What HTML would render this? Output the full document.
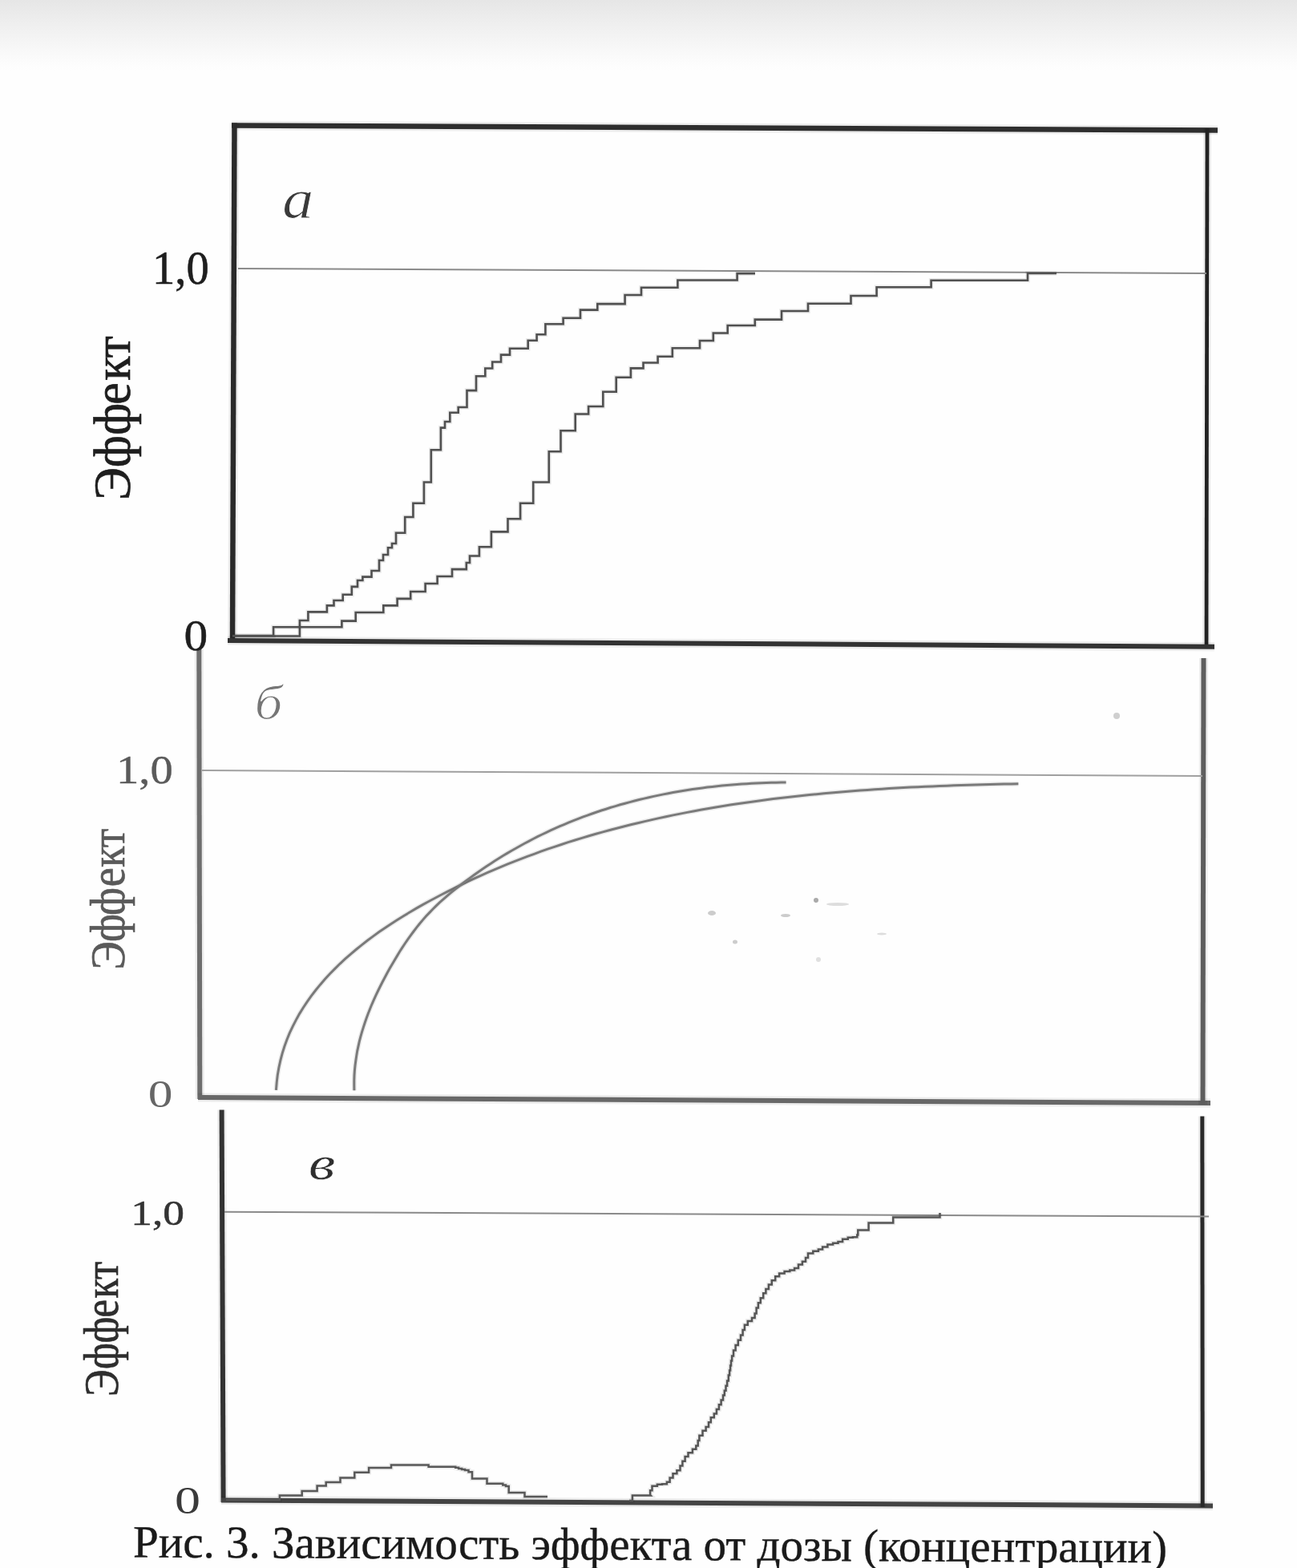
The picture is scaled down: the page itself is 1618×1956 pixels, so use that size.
<!DOCTYPE html>
<html><head><meta charset="utf-8"><title>Рис. 3</title>
<style>html,body{margin:0;padding:0;background:#fefefe;}svg{display:block;}</style>
</head><body>
<svg width="1618" height="1956" viewBox="0 0 1618 1956">
<defs>
<linearGradient id="bg" x1="0" y1="0" x2="0" y2="1">
<stop offset="0" stop-color="#e6e6e6"/><stop offset="0.34" stop-color="#efefef"/><stop offset="0.69" stop-color="#f8f8f8"/><stop offset="0.91" stop-color="#fdfdfd"/><stop offset="1" stop-color="#fefefe"/>
</linearGradient>
</defs>
<rect width="1618" height="1956" fill="#fefefe"/>
<rect width="1618" height="90" fill="url(#bg)"/>
<g fill="none" stroke-linecap="butt" stroke-linejoin="miter">
<path d="M289,156.5 L1519,162.5" stroke="#000" stroke-opacity="0.07" stroke-width="11.5"/><path d="M289,156.5 L1519,162.5" stroke="#2e2e2e" stroke-width="6.5"/>
<path d="M292.5,153.5 L290,801" stroke="#000" stroke-opacity="0.07" stroke-width="11.5"/><path d="M292.5,153.5 L290,801" stroke="#2a2a2a" stroke-width="6.5"/>
<path d="M1506,160 L1505,808" stroke="#000" stroke-opacity="0.07" stroke-width="9.8"/><path d="M1506,160 L1505,808" stroke="#222" stroke-width="4.8"/>
<path d="M284,799 L1515,806.7" stroke="#000" stroke-opacity="0.07" stroke-width="11"/><path d="M284,799 L1515,806.7" stroke="#333" stroke-width="6"/>
<path d="M248.3,810 L249.3,1371" stroke="#000" stroke-opacity="0.07" stroke-width="11"/><path d="M248.3,810 L249.3,1371" stroke="#6e6e6e" stroke-width="6"/>
<path d="M247,1369 L1510,1376" stroke="#000" stroke-opacity="0.07" stroke-width="11"/><path d="M247,1369 L1510,1376" stroke="#686868" stroke-width="6"/>
<path d="M1501.5,821 L1500.5,1378" stroke="#000" stroke-opacity="0.07" stroke-width="11"/><path d="M1501.5,821 L1500.5,1378" stroke="#5e5e5e" stroke-width="6"/>
<path d="M276.6,1384.5 L278.6,1874" stroke="#000" stroke-opacity="0.07" stroke-width="11"/><path d="M276.6,1384.5 L278.6,1874" stroke="#333" stroke-width="6"/>
<path d="M276,1871.5 L1513,1878.4" stroke="#000" stroke-opacity="0.07" stroke-width="11"/><path d="M276,1871.5 L1513,1878.4" stroke="#444" stroke-width="6"/>
<path d="M1499.8,1392.5 L1500.2,1880" stroke="#000" stroke-opacity="0.07" stroke-width="10"/><path d="M1499.8,1392.5 L1500.2,1880" stroke="#2a2a2a" stroke-width="5"/>
<path d="M297,335 L1505,341" stroke="#8a8a8a" stroke-width="2"/>
<path d="M252,961 L1500,968" stroke="#a0a0a0" stroke-width="2"/>
<path d="M280,1511.7 L1508,1517.6" stroke="#8a8a8a" stroke-width="2"/>
<path d="M290,793.5 H373.9 V774 H384.4 V763.4 H407.9 V755.4 H416.5 V749 H427.7 V741.8 H438.8 V731.9 H446 V724 H452.4 V719.6 H463.5 V712 H473 V699 H478 V692 H484 V683.3 H489 V678 H494 V664.8 H505.2 V645 H515.4 V627.7 H528.9 V601.5 H537.8 V561.3 H549.9 V533.6 H555 V526 H561.3 V514.8 H571.7 V508 H582.5 V487.1 H594 V469.3 H605.3 V459.5 H614.2 V451.5 H625 V442.6 H636 V434.7 H658.7 V424.8 H669.6 V417.2 H680.4 V404.2 H702.6 V396.8 H724 V386.6 H745.3 V379.1 H779.6 V368 H800 V358.7 H845.4 V349.5 H919.6 V341.1 H942" stroke="#000" stroke-opacity="0.08" stroke-width="5.6"/><path d="M290,793.5 H373.9 V774 H384.4 V763.4 H407.9 V755.4 H416.5 V749 H427.7 V741.8 H438.8 V731.9 H446 V724 H452.4 V719.6 H463.5 V712 H473 V699 H478 V692 H484 V683.3 H489 V678 H494 V664.8 H505.2 V645 H515.4 V627.7 H528.9 V601.5 H537.8 V561.3 H549.9 V533.6 H555 V526 H561.3 V514.8 H571.7 V508 H582.5 V487.1 H594 V469.3 H605.3 V459.5 H614.2 V451.5 H625 V442.6 H636 V434.7 H658.7 V424.8 H669.6 V417.2 H680.4 V404.2 H702.6 V396.8 H724 V386.6 H745.3 V379.1 H779.6 V368 H800 V358.7 H845.4 V349.5 H919.6 V341.1 H942" stroke="#505050" stroke-width="2.6"/>
<path d="M290,793 H341.1 V782.3 H426.4 V774.6 H443.7 V764 H478.3 V755.4 H495.6 V746.9 H512.2 V738 H530.6 V728 H545.6 V719 H564 V710.1 H581.8 V702 H586 V693.5 H597.9 V682.3 H612.9 V663.4 H633.5 V647.3 H649.1 V627.8 H665.2 V601.5 H684.8 V563.2 H699.5 V537.3 H717.7 V516.5 H734.1 V507 H752.3 V488.8 H768.7 V470.7 H786.9 V459.4 H802.5 V452.5 H820.6 V444.7 H838.8 V434.3 H873 V425 H889.8 V415.5 H907.7 V406 H941.8 V398.6 H975 V388 H1008 V378.8 H1061.5 V369 H1093.6 V358.3 H1161.6 V349.7 H1282 V341 H1318" stroke="#000" stroke-opacity="0.08" stroke-width="5.6"/><path d="M290,793 H341.1 V782.3 H426.4 V774.6 H443.7 V764 H478.3 V755.4 H495.6 V746.9 H512.2 V738 H530.6 V728 H545.6 V719 H564 V710.1 H581.8 V702 H586 V693.5 H597.9 V682.3 H612.9 V663.4 H633.5 V647.3 H649.1 V627.8 H665.2 V601.5 H684.8 V563.2 H699.5 V537.3 H717.7 V516.5 H734.1 V507 H752.3 V488.8 H768.7 V470.7 H786.9 V459.4 H802.5 V452.5 H820.6 V444.7 H838.8 V434.3 H873 V425 H889.8 V415.5 H907.7 V406 H941.8 V398.6 H975 V388 H1008 V378.8 H1061.5 V369 H1093.6 V358.3 H1161.6 V349.7 H1282 V341 H1318" stroke="#505050" stroke-width="2.6"/>
<path d="M344.4,1359.9 L345.2,1350.3 L346.3,1340.9 L347.9,1331.7 L349.9,1322.7 L352.2,1313.8 L354.9,1305.2 L358.0,1296.7 L361.4,1288.4 L365.2,1280.3 L369.3,1272.4 L373.6,1264.6 L378.3,1257.0 L383.2,1249.6 L388.3,1242.4 L393.8,1235.3 L399.4,1228.4 L405.3,1221.6 L411.3,1215.0 L417.6,1208.6 L424.0,1202.3 L430.6,1196.2 L437.3,1190.3 L444.2,1184.5 L451.2,1178.8 L458.3,1173.3 L465.6,1167.9 L472.9,1162.6 L480.4,1157.5 L487.9,1152.4 L495.6,1147.5 L503.3,1142.7 L511.1,1138.0 L518.9,1133.4 L526.8,1128.9 L534.8,1124.5 L542.8,1120.2 L550.8,1116.0 L558.8,1111.8 L566.9,1107.8 L575.0,1103.8 L583.2,1099.9 L591.3,1096.1 L599.6,1092.3 L607.8,1088.7 L616.1,1085.1 L624.4,1081.6 L632.7,1078.2 L641.0,1074.9 L649.4,1071.6 L657.8,1068.4 L666.3,1065.3 L674.7,1062.2 L683.2,1059.2 L691.7,1056.3 L700.3,1053.5 L708.8,1050.7 L717.4,1048.0 L726.0,1045.4 L734.7,1042.8 L743.3,1040.3 L752.0,1037.9 L760.7,1035.5 L769.4,1033.2 L778.1,1031.0 L786.8,1028.8 L795.6,1026.7 L804.4,1024.6 L813.2,1022.6 L822.0,1020.6 L830.8,1018.7 L839.7,1016.9 L848.5,1015.1 L857.4,1013.4 L866.3,1011.7 L875.2,1010.1 L884.1,1008.5 L893.0,1007.0 L902.0,1005.6 L910.9,1004.1 L919.8,1002.8 L928.8,1001.5 L937.8,1000.2 L946.8,999.0 L955.7,997.8 L964.7,996.6 L973.7,995.5 L982.7,994.5 L991.7,993.5 L1000.8,992.5 L1009.8,991.6 L1018.8,990.7 L1027.8,989.8 L1036.8,989.0 L1045.9,988.2 L1054.9,987.4 L1063.9,986.7 L1073.0,986.0 L1082.0,985.4 L1091.0,984.8 L1100.0,984.2 L1109.1,983.6 L1118.1,983.1 L1127.1,982.6 L1136.1,982.1 L1145.1,981.7 L1154.1,981.3 L1163.1,980.9 L1172.1,980.5 L1181.1,980.2 L1190.1,979.8 L1199.0,979.5 L1208.0,979.2 L1216.9,979.0 L1225.9,978.7 L1234.8,978.5 L1243.7,978.3 L1252.6,978.1 L1261.5,977.9 L1270.4,977.8" stroke="#000" stroke-opacity="0.08" stroke-width="6"/><path d="M344.4,1359.9 L345.2,1350.3 L346.3,1340.9 L347.9,1331.7 L349.9,1322.7 L352.2,1313.8 L354.9,1305.2 L358.0,1296.7 L361.4,1288.4 L365.2,1280.3 L369.3,1272.4 L373.6,1264.6 L378.3,1257.0 L383.2,1249.6 L388.3,1242.4 L393.8,1235.3 L399.4,1228.4 L405.3,1221.6 L411.3,1215.0 L417.6,1208.6 L424.0,1202.3 L430.6,1196.2 L437.3,1190.3 L444.2,1184.5 L451.2,1178.8 L458.3,1173.3 L465.6,1167.9 L472.9,1162.6 L480.4,1157.5 L487.9,1152.4 L495.6,1147.5 L503.3,1142.7 L511.1,1138.0 L518.9,1133.4 L526.8,1128.9 L534.8,1124.5 L542.8,1120.2 L550.8,1116.0 L558.8,1111.8 L566.9,1107.8 L575.0,1103.8 L583.2,1099.9 L591.3,1096.1 L599.6,1092.3 L607.8,1088.7 L616.1,1085.1 L624.4,1081.6 L632.7,1078.2 L641.0,1074.9 L649.4,1071.6 L657.8,1068.4 L666.3,1065.3 L674.7,1062.2 L683.2,1059.2 L691.7,1056.3 L700.3,1053.5 L708.8,1050.7 L717.4,1048.0 L726.0,1045.4 L734.7,1042.8 L743.3,1040.3 L752.0,1037.9 L760.7,1035.5 L769.4,1033.2 L778.1,1031.0 L786.8,1028.8 L795.6,1026.7 L804.4,1024.6 L813.2,1022.6 L822.0,1020.6 L830.8,1018.7 L839.7,1016.9 L848.5,1015.1 L857.4,1013.4 L866.3,1011.7 L875.2,1010.1 L884.1,1008.5 L893.0,1007.0 L902.0,1005.6 L910.9,1004.1 L919.8,1002.8 L928.8,1001.5 L937.8,1000.2 L946.8,999.0 L955.7,997.8 L964.7,996.6 L973.7,995.5 L982.7,994.5 L991.7,993.5 L1000.8,992.5 L1009.8,991.6 L1018.8,990.7 L1027.8,989.8 L1036.8,989.0 L1045.9,988.2 L1054.9,987.4 L1063.9,986.7 L1073.0,986.0 L1082.0,985.4 L1091.0,984.8 L1100.0,984.2 L1109.1,983.6 L1118.1,983.1 L1127.1,982.6 L1136.1,982.1 L1145.1,981.7 L1154.1,981.3 L1163.1,980.9 L1172.1,980.5 L1181.1,980.2 L1190.1,979.8 L1199.0,979.5 L1208.0,979.2 L1216.9,979.0 L1225.9,978.7 L1234.8,978.5 L1243.7,978.3 L1252.6,978.1 L1261.5,977.9 L1270.4,977.8" stroke="#7a7a7a" stroke-width="3"/>
<path d="M441.9,1360.3 L441.8,1354.0 L441.8,1347.8 L442.0,1341.6 L442.4,1335.4 L443.0,1329.3 L443.8,1323.2 L444.7,1317.1 L445.7,1311.1 L447.0,1305.1 L448.3,1299.2 L449.8,1293.3 L451.5,1287.4 L453.3,1281.6 L455.2,1275.7 L457.2,1270.0 L459.3,1264.2 L461.6,1258.5 L463.9,1252.8 L466.4,1247.2 L468.9,1241.6 L471.6,1236.0 L474.3,1230.5 L477.1,1225.0 L480.0,1219.5 L482.9,1214.0 L485.9,1208.6 L489.0,1203.2 L492.1,1197.9 L495.3,1192.6 L498.5,1187.3 L501.8,1182.1 L505.2,1177.0 L508.7,1171.9 L512.3,1166.9 L515.9,1162.0 L519.6,1157.1 L523.5,1152.3 L527.4,1147.6 L531.4,1143.0 L535.6,1138.6 L539.8,1134.2 L544.2,1129.9 L548.6,1125.7 L553.2,1121.6 L557.8,1117.6 L562.5,1113.7 L567.2,1109.8 L572.0,1106.0 L576.9,1102.2 L581.8,1098.5 L586.7,1094.9 L591.7,1091.3 L596.7,1087.7 L601.7,1084.2 L606.8,1080.8 L611.9,1077.4 L617.1,1074.0 L622.3,1070.8 L627.5,1067.5 L632.8,1064.4 L638.1,1061.2 L643.5,1058.2 L648.8,1055.2 L654.2,1052.2 L659.7,1049.3 L665.1,1046.5 L670.6,1043.7 L676.1,1041.0 L681.7,1038.3 L687.3,1035.7 L692.9,1033.2 L698.5,1030.7 L704.2,1028.3 L709.8,1025.9 L715.5,1023.6 L721.3,1021.4 L727.0,1019.2 L732.8,1017.1 L738.6,1015.0 L744.4,1013.0 L750.2,1011.0 L756.1,1009.2 L761.9,1007.3 L767.8,1005.6 L773.7,1003.8 L779.7,1002.2 L785.6,1000.6 L791.6,999.0 L797.5,997.5 L803.5,996.1 L809.5,994.7 L815.5,993.4 L821.6,992.1 L827.6,990.9 L833.6,989.7 L839.7,988.6 L845.8,987.5 L851.9,986.5 L857.9,985.5 L864.0,984.6 L870.1,983.7 L876.2,982.9 L882.4,982.1 L888.5,981.4 L894.6,980.7 L900.7,980.1 L906.9,979.5 L913.0,979.0 L919.2,978.5 L925.3,978.1 L931.4,977.7 L937.6,977.3 L943.7,977.0 L949.9,976.7 L956.0,976.5 L962.2,976.3 L968.3,976.2 L974.4,976.1 L980.6,976.1" stroke="#000" stroke-opacity="0.08" stroke-width="6"/><path d="M441.9,1360.3 L441.8,1354.0 L441.8,1347.8 L442.0,1341.6 L442.4,1335.4 L443.0,1329.3 L443.8,1323.2 L444.7,1317.1 L445.7,1311.1 L447.0,1305.1 L448.3,1299.2 L449.8,1293.3 L451.5,1287.4 L453.3,1281.6 L455.2,1275.7 L457.2,1270.0 L459.3,1264.2 L461.6,1258.5 L463.9,1252.8 L466.4,1247.2 L468.9,1241.6 L471.6,1236.0 L474.3,1230.5 L477.1,1225.0 L480.0,1219.5 L482.9,1214.0 L485.9,1208.6 L489.0,1203.2 L492.1,1197.9 L495.3,1192.6 L498.5,1187.3 L501.8,1182.1 L505.2,1177.0 L508.7,1171.9 L512.3,1166.9 L515.9,1162.0 L519.6,1157.1 L523.5,1152.3 L527.4,1147.6 L531.4,1143.0 L535.6,1138.6 L539.8,1134.2 L544.2,1129.9 L548.6,1125.7 L553.2,1121.6 L557.8,1117.6 L562.5,1113.7 L567.2,1109.8 L572.0,1106.0 L576.9,1102.2 L581.8,1098.5 L586.7,1094.9 L591.7,1091.3 L596.7,1087.7 L601.7,1084.2 L606.8,1080.8 L611.9,1077.4 L617.1,1074.0 L622.3,1070.8 L627.5,1067.5 L632.8,1064.4 L638.1,1061.2 L643.5,1058.2 L648.8,1055.2 L654.2,1052.2 L659.7,1049.3 L665.1,1046.5 L670.6,1043.7 L676.1,1041.0 L681.7,1038.3 L687.3,1035.7 L692.9,1033.2 L698.5,1030.7 L704.2,1028.3 L709.8,1025.9 L715.5,1023.6 L721.3,1021.4 L727.0,1019.2 L732.8,1017.1 L738.6,1015.0 L744.4,1013.0 L750.2,1011.0 L756.1,1009.2 L761.9,1007.3 L767.8,1005.6 L773.7,1003.8 L779.7,1002.2 L785.6,1000.6 L791.6,999.0 L797.5,997.5 L803.5,996.1 L809.5,994.7 L815.5,993.4 L821.6,992.1 L827.6,990.9 L833.6,989.7 L839.7,988.6 L845.8,987.5 L851.9,986.5 L857.9,985.5 L864.0,984.6 L870.1,983.7 L876.2,982.9 L882.4,982.1 L888.5,981.4 L894.6,980.7 L900.7,980.1 L906.9,979.5 L913.0,979.0 L919.2,978.5 L925.3,978.1 L931.4,977.7 L937.6,977.3 L943.7,977.0 L949.9,976.7 L956.0,976.5 L962.2,976.3 L968.3,976.2 L974.4,976.1 L980.6,976.1" stroke="#7a7a7a" stroke-width="3"/>
<path d="M282.0,1871.0 L348.9,1871.0 L348.9,1865.6 L376.7,1865.6 L376.7,1860.0 L395.6,1860.0 L395.6,1853.4 L406.7,1853.4 L406.7,1849.0 L424.5,1849.0 L424.5,1843.4 L442.3,1843.4 L442.3,1836.7 L460.1,1836.7 L460.1,1831.1 L488.0,1831.1 L488.0,1827.5 L534.6,1827.5 L534.6,1829.8 L564.3,1829.8 L568.2,1829.8 L568.2,1830.8 L572.1,1830.8 L572.1,1831.9 L576.1,1831.9 L576.1,1833.0 L580.0,1833.0 L580.0,1834.0 L584.5,1834.0 L584.5,1836.2 L589.0,1836.2 L589.0,1838.4 L589.0,1844.6 L607.5,1844.6 L607.5,1850.8 L623.6,1850.8 L627.3,1850.8 L627.3,1852.4 L631.0,1852.4 L631.0,1854.1 L634.7,1854.1 L634.7,1855.7 L634.7,1861.9 L654.5,1861.9 L654.5,1866.9 L683.0,1866.9" stroke="#000" stroke-opacity="0.08" stroke-width="5.5"/><path d="M282.0,1871.0 L348.9,1871.0 L348.9,1865.6 L376.7,1865.6 L376.7,1860.0 L395.6,1860.0 L395.6,1853.4 L406.7,1853.4 L406.7,1849.0 L424.5,1849.0 L424.5,1843.4 L442.3,1843.4 L442.3,1836.7 L460.1,1836.7 L460.1,1831.1 L488.0,1831.1 L488.0,1827.5 L534.6,1827.5 L534.6,1829.8 L564.3,1829.8 L568.2,1829.8 L568.2,1830.8 L572.1,1830.8 L572.1,1831.9 L576.1,1831.9 L576.1,1833.0 L580.0,1833.0 L580.0,1834.0 L584.5,1834.0 L584.5,1836.2 L589.0,1836.2 L589.0,1838.4 L589.0,1844.6 L607.5,1844.6 L607.5,1850.8 L623.6,1850.8 L627.3,1850.8 L627.3,1852.4 L631.0,1852.4 L631.0,1854.1 L634.7,1854.1 L634.7,1855.7 L634.7,1861.9 L654.5,1861.9 L654.5,1866.9 L683.0,1866.9" stroke="#585858" stroke-width="2.5"/>
<path d="M785,1872 H788.9 V1865.4 H811.6 L811.5,1865.3 L811.1,1865.3 L811.1,1859.2 L813.5,1859.2 L813.5,1853.7 L819.9,1853.7 L819.9,1851.7 L826.0,1851.7 L826.0,1851.3 L831.9,1851.3 L831.9,1848.8 L835.6,1848.8 L835.6,1843.4 L839.5,1843.4 L839.5,1838.2 L844.4,1838.2 L844.4,1834.3 L848.5,1834.3 L848.5,1828.5 L851.4,1828.5 L851.4,1822.7 L854.6,1822.7 L854.6,1817.0 L858.5,1817.0 L858.5,1812.2 L863.9,1812.2 L863.9,1807.8 L868.3,1807.8 L868.3,1803.5 L870.7,1803.5 L870.7,1797.0 L872.4,1797.0 L872.4,1790.7 L876.5,1790.7 L876.5,1784.8 L880.6,1784.8 L880.6,1780.0 L884.0,1780.0 L884.0,1774.2 L886.8,1774.2 L886.8,1768.3 L890.8,1768.3 L890.8,1763.4 L893.9,1763.4 L893.9,1758.1 L896.9,1758.1 L896.9,1752.3 L899.6,1752.3 L899.6,1746.4 L902.0,1746.4 L902.0,1740.5 L903.8,1740.5 L903.8,1734.7 L905.5,1734.7 L905.5,1728.7 L907.1,1728.7 L907.1,1722.4 L908.8,1722.4 L908.8,1715.6 L910.1,1715.6 L910.1,1709.6 L911.1,1709.6 L911.1,1703.5 L912.0,1703.5 L912.0,1697.5 L913.1,1697.5 L913.1,1691.5 L915.0,1691.5 L915.0,1684.6 L917.6,1684.6 L917.6,1678.0 L920.8,1678.0 L920.8,1671.7 L924.0,1671.7 L924.0,1665.5 L926.6,1665.5 L926.6,1659.1 L928.9,1659.1 L928.9,1652.8 L932.8,1652.8 L932.8,1647.9 L938.0,1647.9 L938.0,1644.0 L941.6,1644.0 L941.6,1638.4 L943.6,1638.4 L943.6,1631.6 L945.9,1631.6 L945.9,1625.2 L948.8,1625.2 L948.8,1619.2 L952.2,1619.2 L952.2,1613.2 L955.4,1613.2 L955.4,1608.0 L958.9,1608.0 L958.9,1602.6 L962.8,1602.6 L962.8,1597.2 L967.2,1597.2 L967.2,1592.3 L972.1,1592.3 L972.1,1588.5 L978.6,1588.5 L978.6,1585.9 L985.3,1585.9 L985.3,1584.6 L991.1,1584.6 L991.1,1581.9 L996.0,1581.9 L996.0,1577.6 L1000.9,1577.6 L1000.9,1573.8 L1005.0,1573.8 L1005.0,1568.9 L1008.0,1568.9 L1008.0,1563.5 L1014.3,1563.5 L1014.3,1560.8 L1020.9,1560.8 L1020.9,1558.6 L1026.1,1558.6 L1026.1,1555.6 L1032.4,1555.6 L1032.4,1552.4 L1039.1,1552.4 L1039.1,1550.8 L1045.5,1550.8 L1045.5,1549.0 L1051.1,1549.0 L1051.1,1545.7 L1057.8,1545.7 L1057.8,1543.8 L1063.9,1543.8 L1063.9,1543.2 L1069.3,1543.2 L1069.3,1540.6 L1070.3,1540.6 L1070.3,1534.4 L1083.6,1534.4 L1083.6,1525.6 L1114.2,1525.6 L1114.2,1525.6 L1114.2,1525.6 L1114.2,1518.5 L1161.0,1518.5 L1161.0,1518.5 L1172.5,1518.5 L1172.5,1513.0" stroke="#000" stroke-opacity="0.08" stroke-width="5.5"/><path d="M785,1872 H788.9 V1865.4 H811.6 L811.5,1865.3 L811.1,1865.3 L811.1,1859.2 L813.5,1859.2 L813.5,1853.7 L819.9,1853.7 L819.9,1851.7 L826.0,1851.7 L826.0,1851.3 L831.9,1851.3 L831.9,1848.8 L835.6,1848.8 L835.6,1843.4 L839.5,1843.4 L839.5,1838.2 L844.4,1838.2 L844.4,1834.3 L848.5,1834.3 L848.5,1828.5 L851.4,1828.5 L851.4,1822.7 L854.6,1822.7 L854.6,1817.0 L858.5,1817.0 L858.5,1812.2 L863.9,1812.2 L863.9,1807.8 L868.3,1807.8 L868.3,1803.5 L870.7,1803.5 L870.7,1797.0 L872.4,1797.0 L872.4,1790.7 L876.5,1790.7 L876.5,1784.8 L880.6,1784.8 L880.6,1780.0 L884.0,1780.0 L884.0,1774.2 L886.8,1774.2 L886.8,1768.3 L890.8,1768.3 L890.8,1763.4 L893.9,1763.4 L893.9,1758.1 L896.9,1758.1 L896.9,1752.3 L899.6,1752.3 L899.6,1746.4 L902.0,1746.4 L902.0,1740.5 L903.8,1740.5 L903.8,1734.7 L905.5,1734.7 L905.5,1728.7 L907.1,1728.7 L907.1,1722.4 L908.8,1722.4 L908.8,1715.6 L910.1,1715.6 L910.1,1709.6 L911.1,1709.6 L911.1,1703.5 L912.0,1703.5 L912.0,1697.5 L913.1,1697.5 L913.1,1691.5 L915.0,1691.5 L915.0,1684.6 L917.6,1684.6 L917.6,1678.0 L920.8,1678.0 L920.8,1671.7 L924.0,1671.7 L924.0,1665.5 L926.6,1665.5 L926.6,1659.1 L928.9,1659.1 L928.9,1652.8 L932.8,1652.8 L932.8,1647.9 L938.0,1647.9 L938.0,1644.0 L941.6,1644.0 L941.6,1638.4 L943.6,1638.4 L943.6,1631.6 L945.9,1631.6 L945.9,1625.2 L948.8,1625.2 L948.8,1619.2 L952.2,1619.2 L952.2,1613.2 L955.4,1613.2 L955.4,1608.0 L958.9,1608.0 L958.9,1602.6 L962.8,1602.6 L962.8,1597.2 L967.2,1597.2 L967.2,1592.3 L972.1,1592.3 L972.1,1588.5 L978.6,1588.5 L978.6,1585.9 L985.3,1585.9 L985.3,1584.6 L991.1,1584.6 L991.1,1581.9 L996.0,1581.9 L996.0,1577.6 L1000.9,1577.6 L1000.9,1573.8 L1005.0,1573.8 L1005.0,1568.9 L1008.0,1568.9 L1008.0,1563.5 L1014.3,1563.5 L1014.3,1560.8 L1020.9,1560.8 L1020.9,1558.6 L1026.1,1558.6 L1026.1,1555.6 L1032.4,1555.6 L1032.4,1552.4 L1039.1,1552.4 L1039.1,1550.8 L1045.5,1550.8 L1045.5,1549.0 L1051.1,1549.0 L1051.1,1545.7 L1057.8,1545.7 L1057.8,1543.8 L1063.9,1543.8 L1063.9,1543.2 L1069.3,1543.2 L1069.3,1540.6 L1070.3,1540.6 L1070.3,1534.4 L1083.6,1534.4 L1083.6,1525.6 L1114.2,1525.6 L1114.2,1525.6 L1114.2,1525.6 L1114.2,1518.5 L1161.0,1518.5 L1161.0,1518.5 L1172.5,1518.5 L1172.5,1513.0" stroke="#555" stroke-width="2.5"/>
<!-- faint smudges in chart b -->
<g stroke="none" fill="#ccc">
<ellipse cx="888" cy="1139" rx="5" ry="3"/><ellipse cx="917" cy="1175" rx="3" ry="2.5"/><ellipse cx="980" cy="1142" rx="6" ry="2"/>
<ellipse cx="1045" cy="1128" rx="14" ry="2" fill="#ddd"/><ellipse cx="1100" cy="1165" rx="6" ry="1.5" fill="#ddd"/>
<circle cx="1021" cy="1197" r="3" fill="#e0e0e0"/>
</g>
<circle cx="1018" cy="1123" r="3" fill="#aaa" stroke="none"/>
<circle cx="1393" cy="893" r="4" fill="#cfcfcf" stroke="none"/>
</g>
<g transform="matrix(0.9922 0 0 1.0326 190.04 353.74)"><g><text x="0" y="0" font-family="Liberation Serif, serif" font-size="57" font-style="normal" fill="#1e1e1e" stroke="#1e1e1e" stroke-width="0.6">1,0</text></g></g><g transform="matrix(1.0417 0 0 0.9744 229.42 811.03)"><g><text x="0" y="0" font-family="Liberation Serif, serif" font-size="57" font-style="normal" fill="#1e1e1e" stroke="#1e1e1e" stroke-width="0.5">0</text></g></g>
<g transform="matrix(1.1133 0 0 0.9824 352.37 272.02)"><g><text x="0" y="0" font-family="Liberation Serif, serif" font-size="70" font-style="italic" fill="#3a3a3a" stroke="#fefefe" stroke-width="0.8">а</text></g></g><g transform="matrix(1.1173 0 0 1.0702 162.39 624.21)"><g transform="rotate(-90)"><text x="0.28 38.28 75.80 111.61 139.78 166.36" y="0" font-family="Liberation Serif, serif" font-size="58" font-style="normal" fill="#1e1e1e" stroke="#1e1e1e" stroke-width="0.6">Эффект</text></g></g>
<g transform="matrix(1.0898 0 0 0.9773 145.04 977.20)"><g><text x="0" y="0" font-family="Liberation Serif, serif" font-size="52" font-style="normal" fill="#5a5a5a" stroke="#5a5a5a" stroke-width="0.4">1,0</text></g></g><g transform="matrix(1.1818 0 0 0.9306 184.64 1381.07)"><g><text x="0" y="0" font-family="Liberation Serif, serif" font-size="52" font-style="normal" fill="#666" >0</text></g></g><g transform="matrix(1.1586 0 0 1.0136 317.52 896.59)"><g><text x="0" y="0" font-family="Liberation Serif, serif" font-size="60" font-style="italic" fill="#767676" stroke="#fefefe" stroke-width="1.0">б</text></g></g><g transform="matrix(1.0692 0 0 0.9314 155.17 1210.49)"><g transform="rotate(-90)"><text x="0.75 38.17 73.58 111.82 138.09 164.55" y="0" font-family="Liberation Serif, serif" font-size="58" font-style="normal" fill="#5a5a5a" stroke="#5a5a5a" stroke-width="0.6">Эффект</text></g></g>
<g transform="matrix(1.0271 0 0 0.8636 163.19 1528.23)"><g><text x="0" y="0" font-family="Liberation Serif, serif" font-size="52" font-style="normal" fill="#333" stroke="#333" stroke-width="0.6">1,0</text></g></g><g transform="matrix(1.2318 0 0 0.9361 217.94 1888.36)"><g><text x="0" y="0" font-family="Liberation Serif, serif" font-size="52" font-style="normal" fill="#3a3a3a" >0</text></g></g><g transform="matrix(1.2913 0 0 0.9759 384.72 1471.02)"><g><text x="0" y="0" font-family="Liberation Serif, serif" font-size="60" font-style="italic" fill="#2e2e2e" stroke="#fefefe" stroke-width="0.5">в</text></g></g><g transform="matrix(1.0712 0 0 0.8750 146.85 1741.83)"><g transform="rotate(-90)"><text x="-0.08 38.60 75.76 112.37 139.61 166.63" y="0" font-family="Liberation Serif, serif" font-size="58" font-style="normal" fill="#2e2e2e" stroke="#2e2e2e" stroke-width="0.6">Эффект</text></g></g>
<text x="166" y="1942.5" font-family="Liberation Serif, serif" font-size="57" fill="#1a1a1a" stroke="#1a1a1a" stroke-width="0.4" transform="rotate(0.3 166 1942.5)">Рис. 3. Зависимость эффекта от дозы (концентрации)</text>
</svg>
</body></html>
